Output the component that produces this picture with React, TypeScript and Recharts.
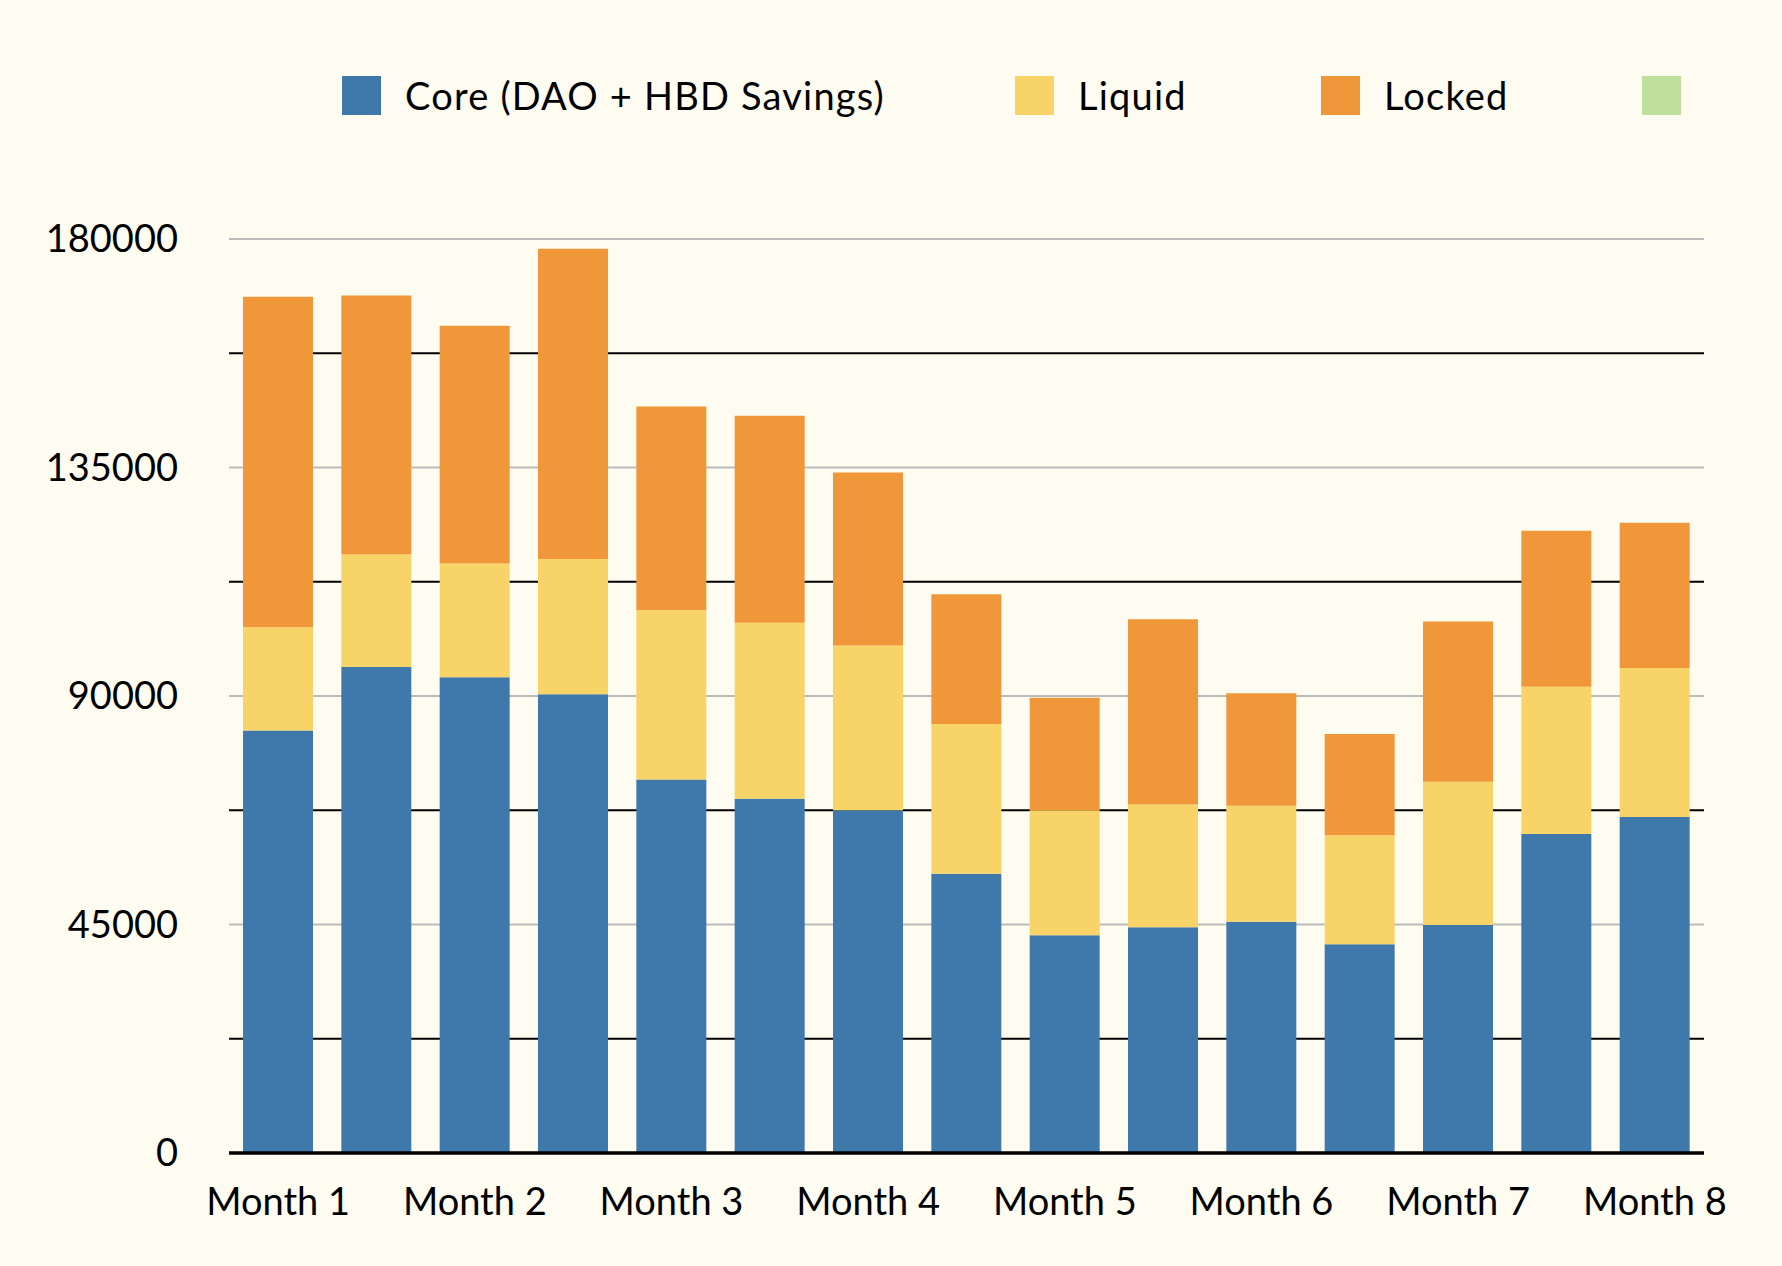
import React from "react";
import { BarChart, Bar, XAxis, YAxis, CartesianGrid } from "recharts";

const monthLabels = ["Month 1", "Month 2", "Month 3", "Month 4", "Month 5", "Month 6", "Month 7", "Month 8"];

const coreValues = [83200, 95700, 93700, 90350, 73550, 69750, 67500, 55000, 42900, 44450, 45550, 41100, 44900, 62800, 66150];
const liquidValues = [20350, 22150, 22400, 26650, 33350, 34700, 32450, 29500, 24600, 24200, 22850, 21500, 28200, 29000, 29350];
const lockedValues = [65100, 51000, 46800, 61100, 40100, 40750, 34050, 25550, 22150, 36450, 22150, 19900, 31550, 30750, 28600];

const yTickValues = [0, 22500, 45000, 67500, 90000, 112500, 135000, 157500, 180000];
const labeledTicks = [0, 45000, 90000, 135000, 180000];
const greyGridValues = [45000, 90000, 135000, 180000];
const blackGridValues = [22500, 67500, 112500, 157500];

const series = [
  { key: "core", name: "Core (DAO + HBD Savings)", color: "#3F78AA" },
  { key: "liquid", name: "Liquid", color: "#F8D468" },
  { key: "locked", name: "Locked", color: "#F09839" },
  { key: "other", name: "", color: "#BFE09C" },
];
const legendLeft = [342, 1015, 1321, 1642];

const data = coreValues.map((c, i) => ({
  idx: i,
  core: c,
  liquid: liquidValues[i],
  locked: lockedValues[i],
  other: null as number | null,
}));

const FONT = 38;

export default function App() {
  return (
    <div style={{ position: "relative", width: 1782, height: 1266, background: "#FEFCF0", fontFamily: "Lato, sans-serif" }}>
      <style>{"body{margin:0;}"}</style>
      <div style={{ position: "absolute", top: 76, left: 0, width: 1782, height: 39, fontSize: FONT, color: "#000" }}>
        {series.map((s, i) => (
          <div key={s.key} style={{ position: "absolute", left: legendLeft[i], top: 0, display: "flex", alignItems: "center", whiteSpace: "nowrap" }}>
            <div style={{ width: 39, height: 39, background: s.color }} />
            {s.name ? <span style={{ marginLeft: 24, lineHeight: "39px", letterSpacing: 1.2 }}>{s.name}</span> : null}
          </div>
        ))}
      </div>
      <BarChart
        width={1782}
        height={1266}
        data={data}
        margin={{ top: 239, right: 78, bottom: 0, left: 0 }}
        barSize={70}
      >
        <CartesianGrid vertical={false} horizontalValues={greyGridValues} stroke="#BBBBBB" strokeWidth={2} />
        <CartesianGrid vertical={false} horizontalValues={blackGridValues} stroke="#000000" strokeWidth={2} />
        <XAxis
          dataKey="idx"
          type="category"
          interval={0}
          height={113}
          tickLine={false}
          tickSize={0}
          tickMargin={35}
          axisLine={{ stroke: "#000", strokeWidth: 3.5 }}
          tick={{ fontSize: FONT, fill: "#000" }}
          tickFormatter={(v: any, i: number) => (i % 2 === 0 ? monthLabels[i / 2] : "")}
        />
        <YAxis
          width={229}
          domain={[0, 180000]}
          ticks={yTickValues}
          interval={0}
          axisLine={false}
          tickLine={false}
          tickSize={0}
          tickMargin={51}
          tick={{ fontSize: FONT, fill: "#000" }}
          tickFormatter={(v: number) => (labeledTicks.includes(v) ? String(v) : "")}
        />
        {series.map((s) => (
          <Bar key={s.key} dataKey={s.key} name={s.name} stackId="a" fill={s.color} isAnimationActive={false} />
        ))}
      </BarChart>
    </div>
  );
}
